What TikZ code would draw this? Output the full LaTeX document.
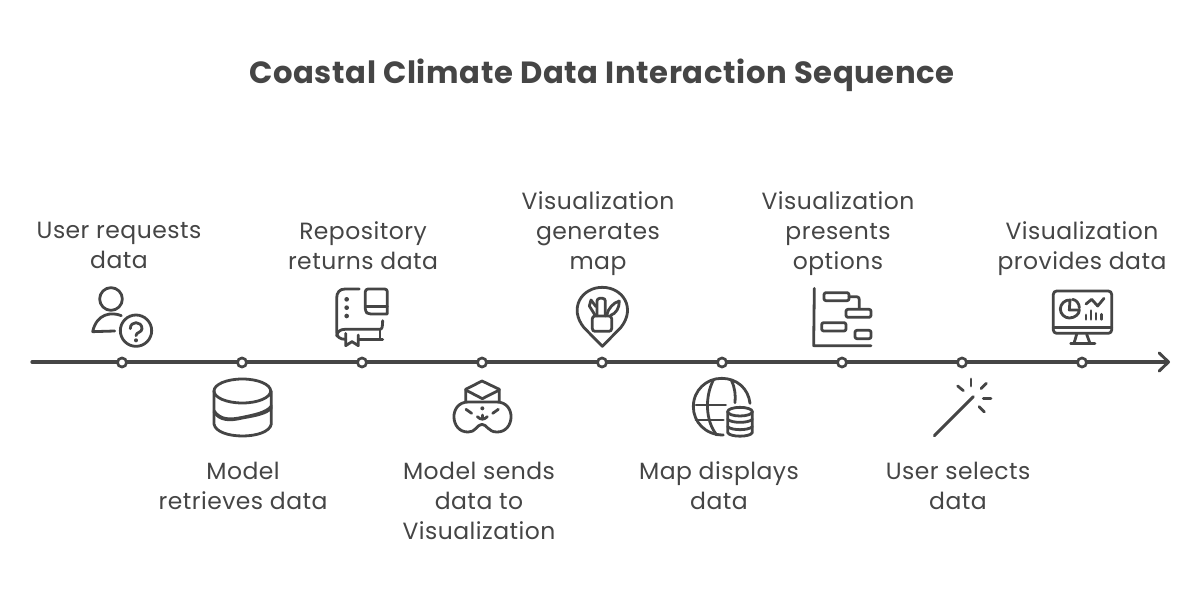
\documentclass[tikz,border=0pt]{standalone}
\usepackage{fontspec}
\setmainfont{Poppins}[LetterSpace=2.0]
\usetikzlibrary{arrows.meta}
\definecolor{ink}{HTML}{454545}
\tikzset{
  x=0.75pt,y=-0.75pt,
  axisline/.style={draw=ink,line width=2.5pt,line cap=round,-{Straight Barb[length=7pt,width=13.5pt,line width=2.2pt,round]}},
  tick/.style={circle,draw=ink,fill=white,line width=2pt,minimum size=6.8pt,inner sep=0pt},
  label/.style={text=ink,align=center,yshift=-3pt,font=\fontsize{17.6}{22.5}\selectfont,execute at begin node=\strut,execute at end node=\strut},
  heading/.style={text=ink,align=center,yshift=-3pt,font=\fontsize{23}{26}\bfseries\selectfont,execute at begin node=\strut,execute at end node=\strut},
  ic/.style={draw=ink,line width=2.1pt,line cap=round,line join=round},
  icd/.style={fill=ink,draw=none},
  zoomA/.style={shift={(80,280)},x=0.25pt,y=-0.25pt},
  zoomB/.style={shift={(440,280)},x=0.25pt,y=-0.25pt},
  zoomC/.style={shift={(800,280)},x=0.25pt,y=-0.25pt}
}
\begin{document}
\begin{tikzpicture}
\useasboundingbox (0,0) rectangle (1204,606);
\fill[white] (0,0) rectangle (1204,606);
\node[heading] (title) at (602,72) {Coastal Climate Data Interaction Sequence};

\coordinate (axisstart) at (32,362);
\coordinate (axisend) at (1170,362);
\draw[axisline] (axisstart) -- (axisend);
\foreach \n/\x in {a/122,b/242,c/362,d/482,e/602,f/722,g/842,h/962,i/1082}
  \node[tick] (\n) at (\x,362.5) {};

\node[label] (la) at (119,246) {User requests\\data};
\node[label] (lb) at (243,486) {Model\\retrieves data};
\node[label] (lc) at (363,246) {Repository\\returns data};
\node[label] (ld) at (479,501) {Model sends\\data to\\Visualization};
\node[label] (le) at (598,231) {Visualization\\generates\\map};
\node[label] (lf) at (719,486) {Map displays\\data};
\node[label] (lg) at (838,231) {Visualization\\presents\\options};
\node[label] (lh) at (958,486) {User selects\\data};
\node[label] (li) at (1082,246) {Visualization\\provides data};

\begin{scope}[zoomA]
 % user with question mark
 \draw[ic] (93,57) circle [radius=34];
 \draw[ic] (124,107) .. controls (95,95) and (50,100) .. (38,155) -- (104,153);
 \draw[ic] (168,152) circle [radius=47];
 \draw[ic] (151,146) .. controls (150,122) and (186,122) .. (186,146) .. controls (186,158) and (168,156) .. (168,167);
 \fill[icd] (168,181) circle [radius=6];
 % database
 \draw[ic] (487,333) ellipse [x radius=85,y radius=36];
 \draw[ic] (402,333) -- (402,432) .. controls (410,480) and (565,480) .. (574,432) -- (574,333);
 \draw[ic] (402,392) .. controls (420,420) and (450,420) .. (487,412) .. controls (520,405) and (560,398) .. (574,378);
 \draw[ic] (402,396) .. controls (420,423) and (450,423) .. (487,414) .. controls (520,408) and (560,402) .. (574,384);
 % book
 \draw[ic] (838,27) -- (795,27) .. controls (778,27) and (770,38) .. (770,55) -- (770,155) .. controls (770,170) and (778,178) .. (797,178);
 \draw[ic] (770,168) .. controls (772,155) and (780,148) .. (795,148) -- (900,148) .. controls (906,148) and (908,140) .. (908,122);
 \draw[ic] (900,148) -- (900,178);
 \draw[ic] (908,178) -- (835,178);
 \draw[ic] (797,160) -- (797,197) -- (816,185) -- (835,197) -- (835,165);
 \foreach \yy in {58,83,108} \fill[icd] (800,\yy) circle [radius=7];
 \draw[ic,rounded corners=2pt] (922,102) -- (865,102) -- (856,95) -- (856,27) -- (922,27) -- (922,102);
 \draw[ic] (858,80) -- (922,80);
\end{scope}

\begin{scope}[zoomB]
 % envelope over mask
 \draw[ic] (77,365) -- (77,328) -- (126,303) -- (178,328) -- (178,365);
 \draw[ic] (77,330) -- (127,356) -- (178,330);
 \draw[ic] (85,366) -- (170,366) .. controls (230,366) and (225,458) .. (170,456) .. controls (145,456) and (140,433) .. (126,433) .. controls (112,433) and (105,458) .. (85,456) .. controls (30,458) and (25,366) .. (85,366);
 \draw[ic] (78,388) -- (95,400);
 \draw[ic] (175,388) -- (158,400);
 \fill[icd] (127,385) circle [radius=6];
 \draw[ic] (112,410) .. controls (122,420) and (132,420) .. (142,410);
 \draw[ic] (127,405) -- (127,416);
 % pin with pot
 \draw[ic] (487,199) -- (432,143) .. controls (385,85) and (425,22) .. (487,22) .. controls (549,22) and (589,85) .. (542,143) -- cycle;
 \draw[ic,rounded corners=2pt] (457,108) -- (457,154) -- (515,154) -- (515,108) -- cycle;
 \draw[ic,rounded corners=2pt] (471,108) -- (471,55) -- (496,55) -- (496,108);
 \draw[ic] (465,105) -- (448,78) -- (453,60) -- (468,80);
 \draw[ic] (500,105) .. controls (505,85) and (520,68) .. (538,63) .. controls (538,85) and (528,100) .. (512,106);
 % globe with database
 \draw[ic] (850,465) .. controls (795,465) and (760,425) .. (760,380) .. controls (760,330) and (800,295) .. (845,295) .. controls (890,295) and (925,325) .. (930,370);
 \draw[ic] (820,300) .. controls (795,350) and (795,420) .. (830,465);
 \draw[ic] (875,303) .. controls (885,325) and (887,345) .. (885,368);
 \draw[ic] (768,375) -- (857,375);
 \draw[ic] (768,420) -- (850,420);
 \draw[ic] (900,395) ellipse [x radius=37,y radius=13];
 \draw[ic] (863,395) -- (863,458) .. controls (870,472) and (930,472) .. (937,458) -- (937,395);
 \draw[ic] (863,418) .. controls (875,430) and (925,430) .. (937,418);
 \draw[ic] (863,440) .. controls (875,452) and (925,452) .. (937,440);
\end{scope}

\begin{scope}[zoomC]
 % gantt
 \draw[ic] (43,25) -- (41,197) -- (213,197);
 \draw[ic,rounded corners=1.5pt] (72,38) rectangle (147,62);
 \draw[ic,rounded corners=1.5pt] (138,88) rectangle (213,112);
 \draw[ic,rounded corners=1.5pt] (65,128) rectangle (138,153);
 \draw[ic,rounded corners=1.5pt] (165,151) rectangle (213,176);
 \draw[ic] (147,50) -- (170,50) .. controls (176,50) and (178,54) .. (178,60) -- (178,86);
 % wand
 \draw[ic,line width=2.3pt] (403,467) -- (520,350);
 \draw[ic] (513,297) -- (513,318);
 \draw[ic] (473,318) -- (490,332);
 \draw[ic] (559,310) -- (543,326);
 \draw[ic] (550,356) -- (573,356);
 \draw[ic] (537,380) -- (553,396);
 % monitor
 \draw[ic,rounded corners=2.5pt] (760,33) rectangle (935,160);
 \draw[ic] (760,143) -- (935,143);
 \draw[ic] (830,163) -- (822,190);
 \draw[ic] (860,163) -- (870,190);
 \draw[ic] (812,191) -- (885,191);
 \draw[ic] (812,60) .. controls (795,58) and (781,72) .. (781,87) .. controls (781,103) and (795,114) .. (808,114) .. controls (825,114) and (838,102) .. (838,90) -- (808,90) -- (810,60);
 \draw[ic] (818,58) .. controls (830,60) and (838,72) .. (838,84);
 \draw[ic] (858,72) -- (875,58) -- (893,78) -- (912,55);
 \draw[ic] (858,118) -- (858,105);
 \draw[ic] (873,118) -- (873,92);
 \draw[ic] (888,118) -- (888,100);
 \draw[ic] (905,118) -- (905,103);
\end{scope}
\end{tikzpicture}
\end{document}
